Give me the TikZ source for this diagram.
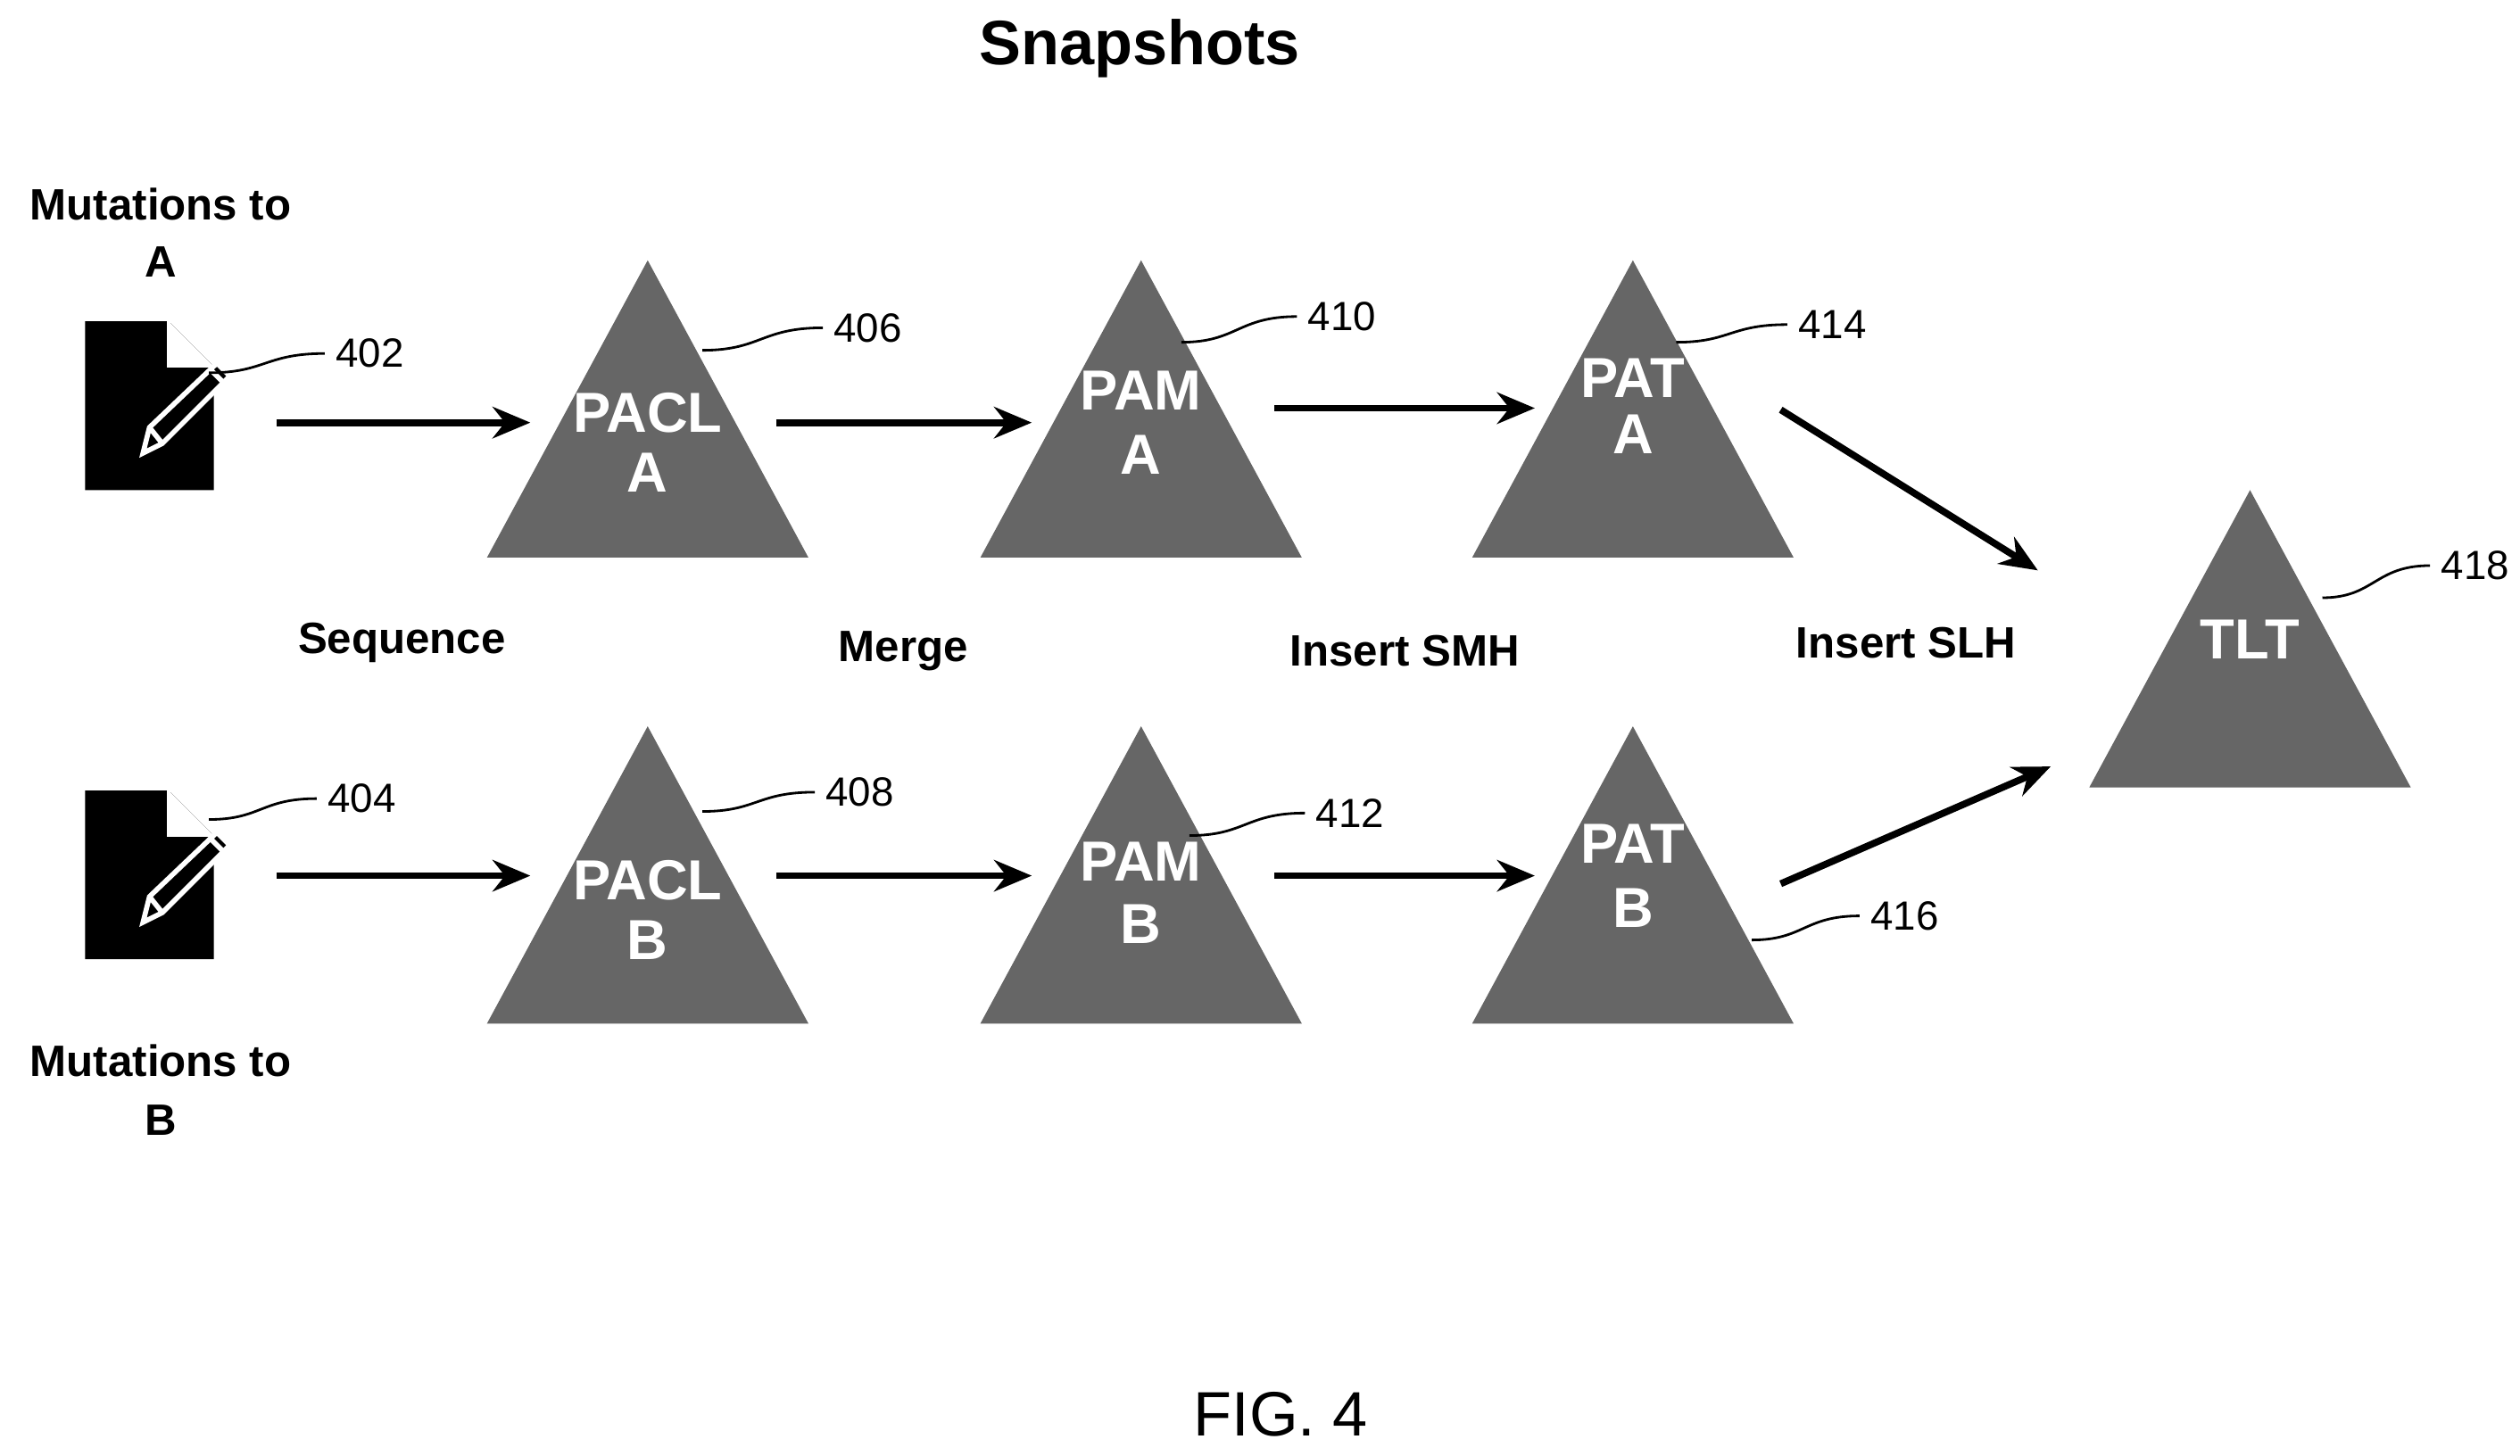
\documentclass[tikz,border=0pt]{standalone}
\usepackage{fontspec}
\setmainfont{Liberation Sans}
\usetikzlibrary{arrows.meta}
\begin{document}
\begin{tikzpicture}[x=0.018cm,y=-0.018cm,
  tri/.style={fill=black!60},
  tl/.style={text=white,font=\bfseries\fontsize{18}{20}\selectfont},
  lab/.style={font=\bfseries\fontsize{14}{16}\selectfont},
  num/.style={font=\fontsize{13}{15}\selectfont,anchor=west},
  arr/.style={line width=2.2pt,-{Stealth[length=12pt,width=10pt]}},
  lead/.style={line width=0.8pt}]
\useasboundingbox (0,0) rectangle (1568,906);
\newcommand{\mytri}[3]{\fill[tri] (#1,#2) -- (#1-100,#2+185) -- (#1+100,#2+185) -- cycle; \coordinate (#3) at (#1,#2);}
\mytri{403}{162}{t406}\mytri{710}{162}{t410}\mytri{1016}{162}{t414}
\mytri{403}{452}{t408}\mytri{710}{452}{t412}\mytri{1016}{452}{t416}
\mytri{1400}{305}{t418}
\newcommand{\mydoc}[2]{\begin{scope}[shift={(#1,#2)}]
 \fill (0,0) -- (52,0) -- (80,28) -- (80,105) -- (0,105) -- cycle;
 \fill[white] (52,0) -- (52,28) -- (80,28) -- cycle;
 \draw[white,line width=1pt] (52,0) -- (52,28) -- (80,28);
 \draw[white,line width=1.6pt,fill=black] (36,82) -- (40,66) -- (82,26) -- (90,34) -- (48,76) -- cycle;
 \draw[white,line width=1.6pt] (40,66) -- (48,76) (78,30)--(86,38);
\end{scope}}
\mydoc{53}{200}\mydoc{53}{492}
\node[lab] (ma1) at (100,127) {Mutations to};\node[lab] (ma2) at (100,163) {A};
\node[lab] (mb1) at (100,660) {Mutations to};\node[lab] (mb2) at (100,697) {B};
\node[font=\bfseries\fontsize{20}{22}\selectfont] (title) at (709,30) {Snapshots};
\node[font=\fontsize{20}{22}\selectfont] (fig) at (797,880) {FIG. 4};
\node[lab] (seq) at (250,400) {Sequence};\node[lab] (mer) at (562,405) {Merge};
\node[lab] (smh) at (874,405) {Insert SMH};\node[lab] (slh) at (1186,400) {Insert SLH};
\node[tl] at (403,257) {PACL};\node[tl] at (403,294) {A};
\node[tl] at (710,243) {PAM};\node[tl] at (710,283) {A};
\node[tl] at (1016,235) {PAT};\node[tl] at (1016,270) {A};
\node[tl] at (403,548) {PACL};\node[tl] at (403,585) {B};
\node[tl] at (710,536) {PAM};\node[tl] at (710,575) {B};
\node[tl] at (1016,525) {PAT};\node[tl] at (1016,565) {B};
\node[tl] at (1400,398) {TLT};
\coordinate (a1) at (172,263);\coordinate (a2) at (330,263);
\coordinate (a3) at (483,263);\coordinate (a4) at (642,263);
\coordinate (a5) at (793,254);\coordinate (a6) at (955,254);
\coordinate (b1) at (172,545);\coordinate (b2) at (330,545);
\coordinate (b3) at (483,545);\coordinate (b4) at (642,545);
\coordinate (b5) at (793,545);\coordinate (b6) at (955,545);
\coordinate (d1) at (1108,255);\coordinate (d2) at (1268,355);
\coordinate (d3) at (1108,550);\coordinate (d4) at (1276,477);
\foreach \p/\q in {a1/a2,a3/a4,a5/a6,b1/b2,b3/b4,b5/b6,d1/d2,d3/d4} \draw[arr] (\p) -- (\q);
\foreach \sx/\sy/\ex/\ey/\n in {130/232/200/220/402,437/218/510/204/406,735/213/805/197/410,1043/213/1110/202/414,1445/372/1510/352/418,130/510/195/497/404,437/505/505/493/408,740/520/810/506/412,1090/585/1155/570/416}{
  \node[num] (n\n) at (\ex+2,\ey) {\n};
  \draw[lead] (\sx,\sy) .. controls ({(\sx+\ex)/2},\sy) and ({(\sx+\ex)/2},\ey) .. (n\n.west);}
\end{tikzpicture}
\end{document}
